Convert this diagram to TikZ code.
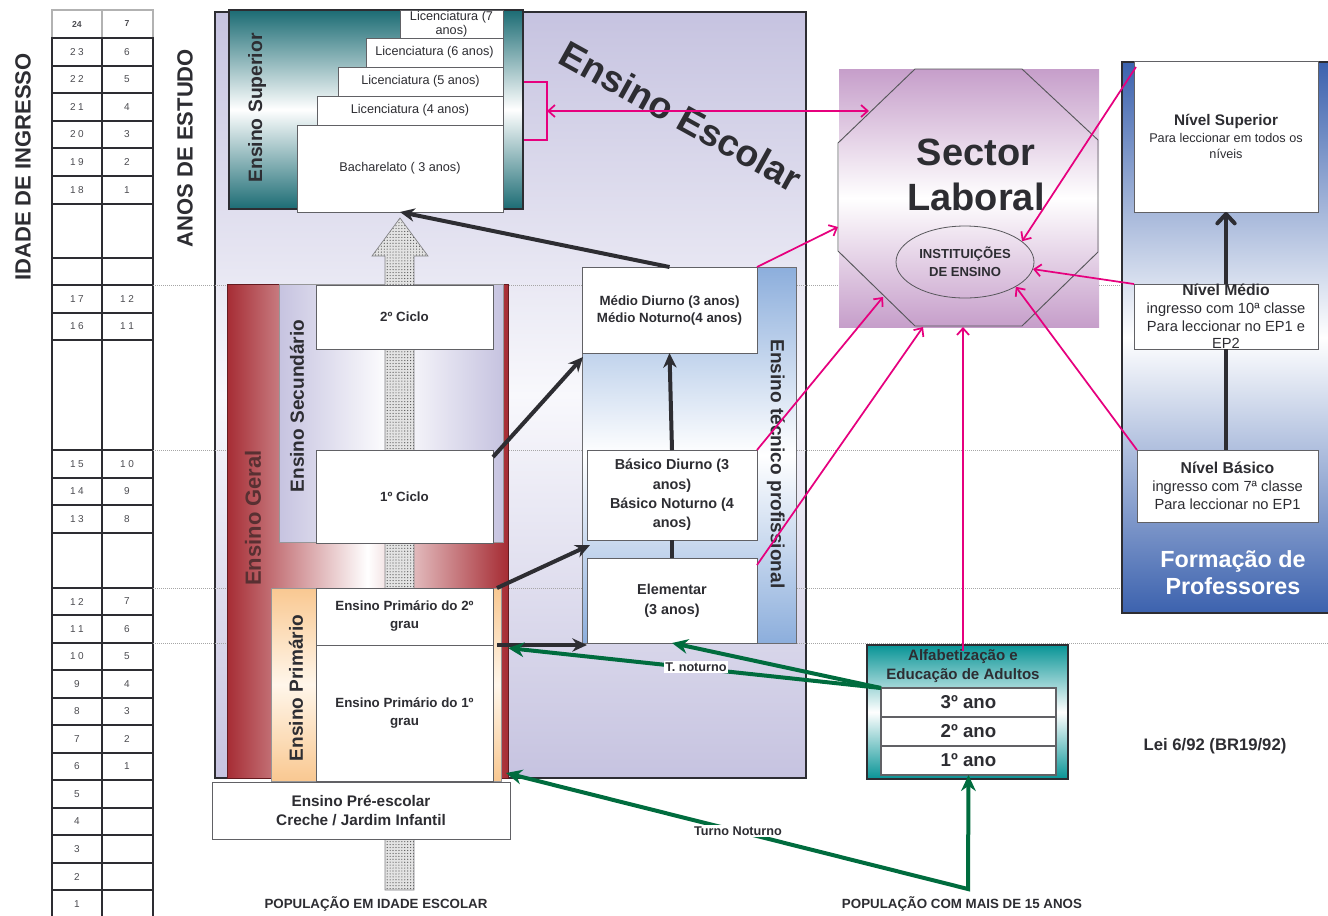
\documentclass[tikz,border=0pt]{standalone}
\usepackage{fontspec}
\setmainfont{Liberation Sans}
\usetikzlibrary{shapes.geometric,arrows.meta,patterns,patterns.meta,calc}
\definecolor{ink}{RGB}{45,45,50}
\definecolor{lav}{RGB}{198,195,224}
\definecolor{lavlight}{RGB}{248,248,252}
\definecolor{tealsup}{RGB}{28,108,116}
\definecolor{gred}{RGB}{166,44,52}
\definecolor{gredtext}{RGB}{88,48,50}
\definecolor{peach}{RGB}{249,200,145}
\definecolor{peachlight}{RGB}{255,246,234}
\definecolor{tblue}{RGB}{140,174,220}
\definecolor{purp}{RGB}{198,158,202}
\definecolor{fblue}{RGB}{60,98,174}
\definecolor{ateal}{RGB}{8,148,150}
\definecolor{mag}{RGB}{230,0,126}
\definecolor{gdark}{RGB}{0,108,62}
\newcommand{\fs}[2]{\fontsize{#1}{#2}\selectfont}
\newcommand{\tn}[2]{#1\hspace{0.25em}#2}
\newcommand{\boxnode}[7]{\node[#6, minimum width={(#4-#2)*0.75pt}, minimum height={(#5-#3)*0.75pt}] (#1) at ({(#2+#4)/2},{(#3+#5)/2}) {#7};}
\begin{document}
\begin{tikzpicture}[x=0.75pt,y=-0.75pt,
  wbox/.style={draw=ink!75, line width=0.7pt, fill=white, inner sep=0pt, outer sep=0pt, align=center, text=ink},
  vlabel/.style={font=\bfseries\fs{14.3}{16}, text=ink, inner sep=0pt},
  tcell/.style={draw=ink, line width=1.4pt},
  num/.style={font=\fs{7.5}{9}, text=ink!85, inner sep=0pt},
  barrow/.style={draw=ink, line width=3pt, -{Stealth[length=11pt,width=10pt]}},
  garrow/.style={draw=gdark, line width=3pt},
  parrow/.style={draw=mag, line width=1.3pt, -{Straight Barb[length=5pt,width=9pt]}},
  pboth/.style={draw=mag, line width=1.3pt, {Straight Barb[length=5pt,width=9pt]}-{Straight Barb[length=5pt,width=9pt]}},
  guide/.style={draw=gray!70, line width=0.6pt, dash pattern=on 0.6pt off 0.9pt},
  smallbold/.style={font=\bfseries\fs{10}{12}, text=ink, inner sep=1pt}
]
\useasboundingbox (0,0) rectangle (1328,915);
\fill[white] (0,0) rectangle (1328,915);

% ---------- table ----------
\draw[draw=gray!60, line width=0.8pt] (52,10) rectangle (102,38);
\draw[draw=gray!60, line width=0.8pt] (102,10) rectangle (153,38);
\node[num, font=\bfseries\fs{6.5}{8}] (h1) at (77,24) {24};
\node[num, font=\bfseries\fs{6.5}{8}] (h2) at (127,24) {7};
\foreach \ya/\yb/\la/\lb [count=\i] in {38/66/\tn{2}{3}/6, 66/93/\tn{2}{2}/5, 93/121/\tn{2}{1}/4, 121/148/\tn{2}{0}/3, 148/176/\tn{1}{9}/2, 176/204/\tn{1}{8}/1, 204/258/{}/{}, 258/285/{}/{}, 285/313/\tn{1}{7}/\tn{1}{2}, 313/340/\tn{1}{6}/\tn{1}{1}, 340/450/{}/{}, 450/478/\tn{1}{5}/\tn{1}{0}, 478/505/\tn{1}{4}/9, 505/533/\tn{1}{3}/8, 533/588/{}/{}, 588/615/\tn{1}{2}/7, 615/643/\tn{1}{1}/6, 643/670/\tn{1}{0}/5, 670/698/9/4, 698/725/8/3, 725/753/7/2, 753/780/6/1, 780/808/5/{}, 808/835/4/{}, 835/863/3/{}, 863/890/2/{}, 890/918/1/{}}{
  \draw[tcell] (52,\ya) rectangle (102,\yb);
  \draw[tcell] (102,\ya) rectangle (153,\yb);
  \node[num] (ta\i) at (77,{(\ya+\yb)/2}) {\la};
  \node[num] (tb\i) at (127,{(\ya+\yb)/2}) {\lb};
}
\node[rotate=90, font=\bfseries\fs{16.5}{18}, text=ink] (idade) at (23,167) {IDADE DE INGRESSO};
\node[rotate=90, font=\bfseries\fs{16.5}{18}, text=ink] (anos) at (185,148) {ANOS DE ESTUDO};

% ---------- Ensino Escolar ----------
\boxnode{escbg}{215}{12}{806}{778}{draw=ink, line width=1.1pt, top color=lav, bottom color=lav, middle color=lavlight}{}
\foreach \yy in {285,450,588,643} \draw[guide] (153,\yy) -- (1328,\yy);
\node[rotate=-29, font=\bfseries\fs{28}{30}, text=ink, inner sep=0pt] (esctext) at (681,116) {Ensino Escolar};

% Ensino Superior
\boxnode{sup}{229}{10}{523}{209}{draw=ink, line width=1.1pt, top color=tealsup, bottom color=tealsup, middle color=white}{}
\node[vlabel, rotate=90, font=\bfseries\fs{14.5}{16}] (suplab) at (257,108) {Ensino Superior};
\boxnode{lic7}{400}{10}{503}{38}{wbox, font=\fs{9.5}{10.5}}{Licenciatura (7\\anos)}
\boxnode{lic6}{366}{38}{503}{67}{wbox, font=\fs{9.5}{11}}{Licenciatura (6 anos)}
\boxnode{lic5}{338}{67}{503}{96}{wbox, font=\fs{9.5}{11}}{Licenciatura (5 anos)}
\boxnode{lic4}{317}{96}{503}{125}{wbox, font=\fs{9.5}{11}}{Licenciatura (4 anos)}
\boxnode{bach}{297}{125}{503}{212}{wbox, font=\fs{9.5}{11}}{Bacharelato ( 3 anos)}

% Ensino Geral
\boxnode{geral}{227}{284}{508}{778}{draw=gred!60!black, line width=0.5pt, left color=gred, right color=gred, middle color=white}{}
\node[rotate=90, font=\bfseries\fs{16.5}{18}, text=gredtext, inner sep=0pt] (gerallab) at (253,518) {Ensino Geral};
\boxnode{sec}{279}{284}{503}{542}{draw=ink!50, line width=0.5pt, left color=lav, right color=lav, middle color=white}{}
\node[vlabel, rotate=90] (seclab) at (297,406) {Ensino Secundário};
\boxnode{prim}{271}{588}{501}{781}{draw=ink!50, line width=0.5pt, top color=peach, bottom color=peach, middle color=peachlight}{}
\node[vlabel, rotate=90] (primlab) at (296,688) {Ensino Primário};

% dotted population arrow
\path[draw=ink!60, line width=0.5pt, preaction={fill=gray!22}, pattern={Dots[distance=2.2pt, radius=0.45pt]}, pattern color=black!70]
  (385,890) -- (385,256) -- (372,256) -- (400,218) -- (428,256) -- (414,256) -- (414,890) -- cycle;

\boxnode{c2}{316}{285}{493}{349}{wbox, font=\bfseries\fs{10}{12}}{2º Ciclo}
\boxnode{c1}{316}{450}{493}{543}{wbox, font=\bfseries\fs{10}{12}}{1º Ciclo}
\boxnode{p2}{316}{588}{493}{645}{wbox, font=\bfseries\fs{10}{13.5}}{Ensino Primário do 2º\\grau}
\boxnode{p1}{316}{645}{493}{781}{wbox, font=\bfseries\fs{10}{13.5}}{Ensino Primário do 1º\\grau}
\boxnode{pre}{212}{782}{510}{839}{wbox, font=\bfseries\fs{11.5}{14.2}}{Ensino Pré-escolar\\Creche / Jardim Infantil}

% Ensino tecnico profissional
\boxnode{tec}{582}{267}{796}{643}{draw=ink!70, line width=0.6pt, top color=tblue, bottom color=tblue, middle color=white}{}
\node[vlabel, rotate=-90] (teclab) at (776,464) {Ensino técnico profissional};
\boxnode{medio}{582}{267}{757}{353}{wbox, font=\bfseries\fs{10}{12.75}}{Médio Diurno (3 anos)\\Médio Noturno(4 anos)}
\boxnode{basico}{587}{450}{757}{540}{wbox, font=\bfseries\fs{10.8}{14.6}}{Básico Diurno (3\\anos)\\Básico Noturno (4\\anos)}
\boxnode{elem}{587}{558}{757}{643}{wbox, font=\bfseries\fs{10.8}{15}}{Elementar\\(3 anos)}

% black arrows
\draw[barrow] (medio.north) -- (bach.south);
\draw[barrow] ($(c1.north east)+(0,7)$) -- ($(medio.south west)+(1,4)$);
\draw[barrow] (basico.north) -- (medio.south);
\draw[ink, line width=3pt] (elem.north) -- (basico.south);
\draw[barrow] ($(p2.north east)+(4,0)$) -- ($(basico.south west)+(3,5)$);
\draw[barrow] ($(p2.south east)+(4,0)$) -- (elem.south west |- p2.south east);

% ---------- Sector Laboral ----------
\boxnode{slbg}{839}{69}{1099}{327}{draw=none, top color=purp, bottom color=purp, middle color=white}{}
\draw[ink!80, line width=0.7pt] (915,69) -- (1022,69) -- (1098,140) -- (1098,252) -- (1022,326) -- (915,326) -- (838,251) -- (838,143) -- cycle;
\node[font=\bfseries\fs{28.5}{33.75}, text=ink, align=center, inner sep=0pt] (sltext) at (976,175) {Sector\\Laboral};
\node[ellipse, draw=ink!80, line width=0.6pt, minimum width=103.5pt, minimum height=54pt, inner sep=0pt, align=center, font=\bfseries\fs{9.8}{13.5}, text=ink] (inst) at (965,262) {INSTITUIÇÕES\\DE ENSINO};

% ---------- Formacao de Professores ----------
\boxnode{form}{1122}{62}{1332}{613}{draw=ink, line width=1pt, top color=fblue, bottom color=fblue, middle color=white}{}
\boxnode{ns}{1134}{61}{1318}{212}{wbox, font=\fs{9.5}{12.4}}{{\bfseries\fs{11.5}{12.4}Nível Superior}\\Para leccionar em todos os\\níveis}
\boxnode{nm}{1134}{284}{1318}{349}{wbox, font=\fs{11}{13.3}}{{\bfseries\fs{11.8}{13.3}Nível Médio}\\ingresso com 10ª classe\\Para leccionar no EP1 e\\EP2}
\boxnode{nb}{1137}{450}{1318}{522}{wbox, font=\fs{11}{13.5}}{{\bfseries\fs{11.8}{13.5}Nível Básico}\\ingresso com 7ª classe\\Para leccionar no EP1}
\node[font=\bfseries\fs{17.5}{20.25}, text=white, align=center] (formlab) at (1233,573) {Formação de\\Professores};
\draw[ink, line width=3pt, -{Straight Barb[length=7pt,width=13pt,round]}] (nm.north) -- (ns.south);
\draw[ink, line width=3pt] (nm.south) -- (nm.south |- nb.north);

% ---------- Alfabetizacao ----------
\boxnode{alf}{867}{645}{1068}{779}{draw=ink, line width=0.9pt, top color=ateal, bottom color=ateal, middle color=white}{}
\node[font=\bfseries\fs{11.3}{14.2}, text=ink, align=center, inner sep=0pt] (alftitle) at (963,666) {Alfabetização e\\Educação de Adultos};
\boxnode{a3}{881}{688}{1056}{717}{wbox, line width=0.9pt, font=\bfseries\fs{14}{16}}{3º ano}
\boxnode{a2}{881}{717}{1056}{746}{wbox, line width=0.9pt, font=\bfseries\fs{14}{16}}{2º ano}
\boxnode{a1}{881}{746}{1056}{775}{wbox, line width=0.9pt, font=\bfseries\fs{14}{16}}{1º ano}

\node[font=\bfseries\fs{12.5}{14}, text=ink] (lei) at (1215,746) {Lei 6/92 (BR19/92)};
\node[smallbold] (popesc) at (376,904) {POPULAÇÃO EM IDADE ESCOLAR};
\node[smallbold] (popad) at (962,904) {POPULAÇÃO COM MAIS DE 15 ANOS};

% ---------- green connectors ----------
\coordinate (gP1) at (508,648);
\coordinate (gPre) at (506,773);
\coordinate (gJ) at (968,889);
\draw[garrow, -{Stealth[length=12pt,width=11pt]}] (a3.north west) -- (elem.south);
\draw[garrow, -{Stealth[length=12pt,width=11pt]}] (a3.north west) -- (gP1);
\draw[garrow, line join=miter, {Stealth[length=12pt,width=11pt]}-{Stealth[length=12pt,width=11pt]}] (gPre) -- (gJ) -- (a1.south);
\node[fill=white, inner sep=1pt, font=\bfseries\fs{9.5}{11}, text=ink] (tnot) at (696,667) {T. noturno};
\node[fill=white, inner sep=1pt, font=\bfseries\fs{9.5}{11}, text=ink] (turno) at (738,831) {Turno Noturno};

% ---------- magenta connectors ----------
\coordinate (brA) at (524,82);
\coordinate (brB) at (547,82);
\coordinate (brC) at (547,140);
\coordinate (brD) at (524,140);
\coordinate (brM) at (547,111);
\coordinate (o1) at (869,111);
\coordinate (o2) at (838,227);
\coordinate (o3) at (883,297);
\coordinate (o4) at (923,327);
\coordinate (o5) at (963,327);
\coordinate (alftop) at (963,651);
\draw[mag, line width=1.3pt] (brA) -- (brB) -- (brC) -- (brD);
\draw[pboth] (brM) -- (o1);
\draw[parrow] (medio.north east) -- (o2);
\draw[parrow] (basico.north east) -- (o3);
\draw[parrow] ($(elem.north east)+(0,7)$) -- (o4);
\draw[parrow] (alftop) -- (o5);
\draw[parrow] (nb.north west) -- (inst.-26);
\draw[parrow] (nm.north west) -- (inst.-6);
\draw[parrow] ($(ns.north west)+(2,6)$) -- (inst.20);
\end{tikzpicture}
\end{document}
